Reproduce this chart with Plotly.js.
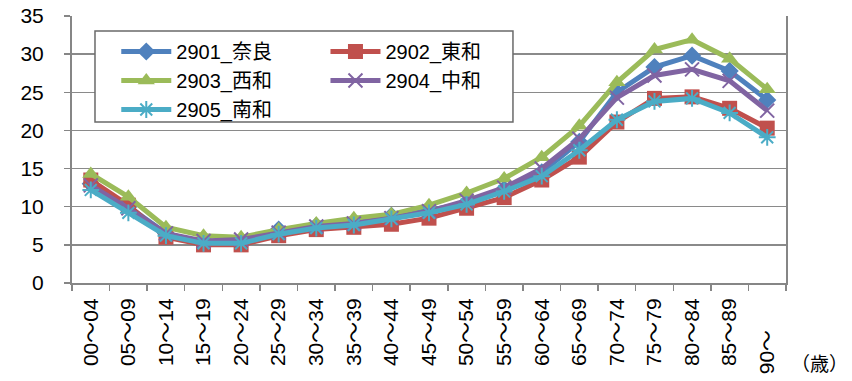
<!DOCTYPE html>
<html>
<head>
<meta charset="utf-8">
<script src="https://cdn.plot.ly/plotly-3.0.1.min.js"></script>
<style>html,body{margin:0;padding:0;background:#fff;}#chart{width:852px;height:381px;}</style>
</head>
<body>
<div id="chart"></div>
<script>
const categories = ['00～04','05～09','10～14','15～19','20～24','25～29','30～34','35～39','40～44','45～49','50～54','55～59','60～64','65～69','70～74','75～79','80～84','85～89','90～'];
const tickLabels = ['00～04','05～09','10～14','15～19','20～24','25～29','30～34','35～39','40～44','45～49','50～54','55～59','60～64','65～69','70～74','75～79','80～84','85～89','90～\u3000\u2002'];
const seriesNames = ['2901_奈良','2902_東和','2903_西和','2904_中和','2905_南和'];
const nara   = [13.0, 10.0, 6.5, 5.3, 5.5, 7.0, 7.5, 7.8, 8.8, 9.5, 10.5, 12.3, 14.5, 18.5, 25.0, 28.3, 29.8, 27.8, 24.0];
const towa   = [13.5, 10.2, 6.0, 5.0, 5.0, 6.2, 7.0, 7.3, 7.7, 8.5, 9.8, 11.2, 13.5, 16.5, 21.1, 24.2, 24.4, 22.9, 20.3];
const seiwa  = [14.3, 11.3, 7.3, 6.2, 6.0, 7.0, 7.8, 8.5, 9.0, 10.2, 11.8, 13.7, 16.5, 20.6, 26.3, 30.6, 31.9, 29.4, 25.4];
const chuwa  = [12.8, 9.8, 6.5, 5.5, 5.7, 6.6, 7.4, 7.8, 8.5, 9.4, 10.8, 12.5, 15.0, 18.9, 24.3, 27.2, 28.0, 26.5, 22.6];
const nanwa  = [12.2, 9.2, 6.2, 5.2, 5.2, 6.4, 7.2, 7.6, 8.4, 9.2, 10.3, 12.0, 14.0, 17.4, 21.4, 23.8, 24.2, 22.3, 19.1];
const yTicks = [0, 5, 10, 15, 20, 25, 30, 35];

const colors = ['#4F81BD', '#C0504D', '#9BBB59', '#8064A2', '#4BACC6'];
const symbols = ['diamond', 'square', 'triangle-up', 'x-thin-open', 'asterisk-open'];
const sizes = [14, 15, 15, 14, 14];
const legendRefs = ['legend', 'legend2', 'legend', 'legend2', 'legend'];
const allSeries = [nara, towa, seiwa, chuwa, nanwa];

const traces = allSeries.map((vals, i) => ({
  type: 'scatter', mode: 'lines+markers',
  x: categories, y: vals, name: seriesNames[i],
  legend: legendRefs[i],
  line: {color: colors[i], width: 5},
  marker: {symbol: symbols[i], size: sizes[i], color: colors[i],
           line: {color: colors[i], width: (i >= 3 ? 2 : 0)}}
}));

const font = {family: '"Liberation Sans", Arial, "Noto Sans CJK JP", sans-serif', size: 20, color: '#000'};
const legendBase = {
  bgcolor: 'rgba(0,0,0,0)', borderwidth: 0, orientation: 'v',
  xanchor: 'left', yanchor: 'top', font: {family: font.family, size: 20, color: '#000'},
  itemwidth: 50, tracegroupgap: 0
};

const layout = {
  width: 852, height: 381,
  margin: {l: 72, r: 66, t: 16, b: 98, autoexpand: false},
  paper_bgcolor: '#fff', plot_bgcolor: '#fff',
  font: font,
  showlegend: true,
  legend: Object.assign({}, legendBase, {x: 0.062, y: 0.94}),
  legend2: Object.assign({}, legendBase, {x: 0.355, y: 0.94}),
  xaxis: {
    type: 'category', range: [-0.5, 18.5], autorange: false,
    tickmode: 'array', tickvals: categories, ticktext: tickLabels,
    tickangle: -90, tickson: 'boundaries', ticks: 'outside', ticklen: 6, tickwidth: 1.5, tickcolor: '#868686',
    showline: true, linecolor: '#868686', linewidth: 2, mirror: false, automargin: false,
    showgrid: false, zeroline: false, tickfont: {size: 21}, ticklabelstandoff: 5
  },
  yaxis: {
    range: [0, 35], autorange: false, tickmode: 'array', tickvals: yTicks, automargin: false,
    ticks: 'outside', ticklen: 6, tickwidth: 1.5, tickcolor: '#868686',
    showline: true, linecolor: '#868686', linewidth: 2, mirror: true,
    showgrid: true, gridcolor: '#8a8a8a', gridwidth: 1.5, zeroline: false,
    tickfont: {size: 21}, ticklabelstandoff: 16
  },
  shapes: [{
    type: 'rect', xref: 'paper', yref: 'paper', layer: 'above',
    x0: 0.0322, x1: 0.6176, y0: 0.603, y1: 0.9438,
    line: {color: '#6a6a6a', width: 1.5}, fillcolor: '#fff'
  }],
  annotations: [{
    text: '（歳）', xref: 'paper', yref: 'paper', x: 1.004, y: -0.307,
    xanchor: 'left', yanchor: 'middle', showarrow: false, font: {size: 19}
  }]
};

Plotly.newPlot('chart', traces, layout, {displayModeBar: false, staticPlot: true});
</script>
</body>
</html>
